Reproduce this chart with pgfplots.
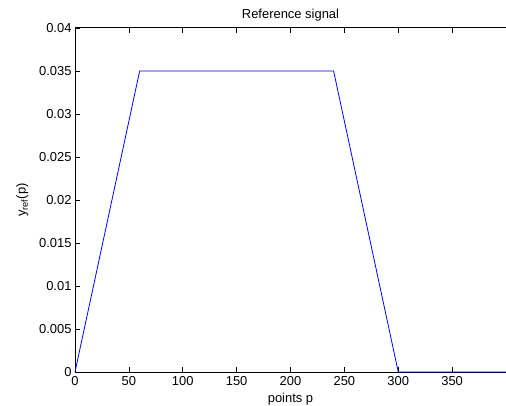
\documentclass[border=0pt]{standalone}
\usepackage{fontspec}
\setmainfont{Liberation Sans}
\usepackage{pgfplots}
\pgfplotsset{compat=1.18}

\begin{document}
\begin{tikzpicture}
\begin{axis}[
    scale only axis,
    width=431bp,
    height=344bp,
    xmin=0, xmax=400,
    ymin=0, ymax=0.04,
    axis x line=box,
    axis y line=left,
    axis line style={-, line width=1bp},
    tick align=inside,
    major tick length=5bp,
    tick style={black, line width=0.7bp},
    xtick={0,50,...,350},
    ytick={0,0.005,0.01,0.015,0.02,0.025,0.03,0.035,0.04},
    yticklabels={0,0.005,0.01,0.015,0.02,0.025,0.03,0.035,0.04},
    scaled y ticks=false,
    /pgf/number format/assume math mode=true,
    tick label style={font=\fontsize{13}{15}\selectfont},
    label style={font=\fontsize{13}{15}\selectfont},
    title style={font=\fontsize{13}{15}\selectfont, yshift=-3bp},
    title={Reference signal},
    xlabel={points p},
    ylabel={y\textsubscript{ref}(p)},
    xticklabel style={yshift=-1bp},
    xlabel style={yshift=-1bp},
    ylabel style={yshift=4bp},
    clip=false,
]
\addplot[color=blue, line width=0.8bp] coordinates {
    (0,0) (60,0.035) (240,0.035) (300,0) (400,0)
};
\end{axis}
\pgfresetboundingbox
\path[use as bounding box] ([shift={(-75bp,-33bp)}]current axis.south west)
    rectangle ([shift={(0bp,28bp)}]current axis.north east);
\end{tikzpicture}
\end{document}
